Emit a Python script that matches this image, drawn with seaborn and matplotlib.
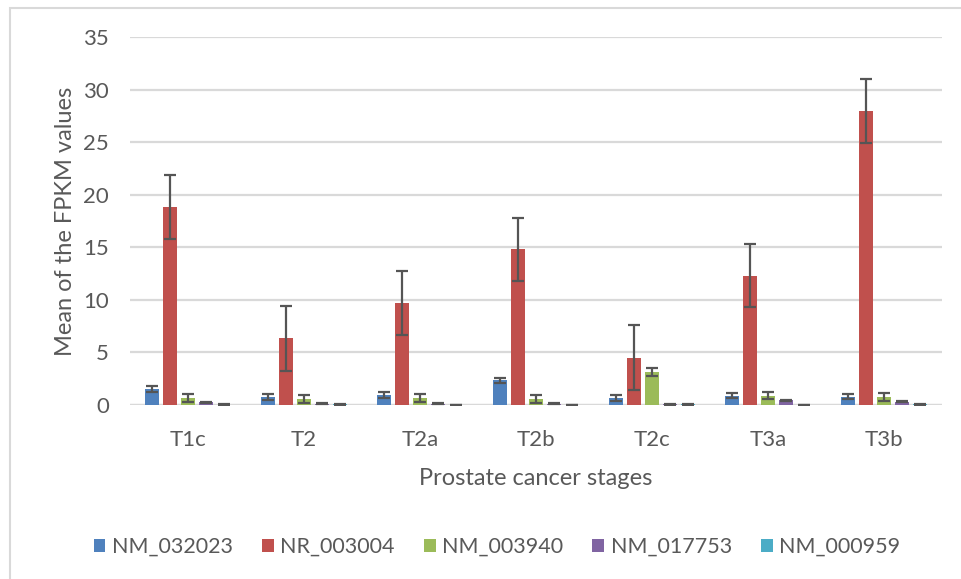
import matplotlib
matplotlib.use("Agg")
import matplotlib.pyplot as plt
from matplotlib.patches import Rectangle
import numpy as np
import pandas as pd
import seaborn as sns

# Stages and transcripts
stages = ["T1c", "T2", "T2a", "T2b", "T2c", "T3a", "T3b"]
genes = ["NM_032023", "NR_003004", "NM_003940", "NM_017753", "NM_000959"]

# Mean FPKM per stage (one list per transcript)
nm_032023 = [1.55, 0.75, 0.95, 2.35, 0.65, 0.90, 0.80]
nr_003004 = [18.8, 6.35, 9.7, 14.8, 4.5, 12.3, 27.95]
nm_003940 = [0.65, 0.55, 0.65, 0.55, 3.10, 0.90, 0.80]
nm_017753 = [0.25, 0.12, 0.12, 0.12, 0.05, 0.45, 0.30]
nm_000959 = [0.03, 0.05, 0.02, 0.02, 0.05, 0.02, 0.05]

# Error bar half-widths
err_032023 = [0.28, 0.25, 0.27, 0.22, 0.27, 0.27, 0.27]
err_003004 = [3.05, 3.10, 3.05, 3.00, 3.10, 3.00, 3.05]
err_003940 = [0.38, 0.38, 0.38, 0.38, 0.38, 0.32, 0.38]
err_017753 = [0.05, 0.04, 0.04, 0.04, 0.03, 0.06, 0.05]
err_000959 = [0.02, 0.02, 0.01, 0.01, 0.02, 0.01, 0.02]

means = [nm_032023, nr_003004, nm_003940, nm_017753, nm_000959]
errs = [err_032023, err_003004, err_003940, err_017753, err_000959]
colors = ["#4F81BD", "#C0504D", "#9BBB59", "#8064A2", "#4BACC6"]

df = pd.DataFrame({
    "stage": np.tile(stages, len(genes)),
    "gene": np.repeat(genes, len(stages)),
    "mean": np.concatenate(means),
    "err": np.concatenate(errs),
})

sns.set_theme(style="white")
plt.rcParams["font.family"] = ["Lato", "DejaVu Sans"]
text_col = "#595959"

fig = plt.figure(figsize=(9.61, 5.79), dpi=100)
W, H = 961, 579
ax = fig.add_axes([130 / W, 1 - 405 / H, 812 / W, 368 / H])

sns.barplot(data=df, x="stage", y="mean", hue="gene", order=stages,
            hue_order=genes, palette=colors, width=0.776, gap=0.22,
            errorbar=None, saturation=1, ax=ax, legend=True,
            edgecolor="none", zorder=3)

# Error bars centred on each drawn bar
for container, gene in zip(ax.containers, genes):
    sub = df[df.gene == gene].set_index("stage").loc[stages]
    xs = [p.get_x() + p.get_width() / 2 for p in container.patches]
    ax.errorbar(xs, sub["mean"].values, yerr=sub["err"].values, fmt="none",
                ecolor="#555555", elinewidth=1.6, capsize=4.2, capthick=1.6,
                zorder=4)

ax.set_ylim(0, 35)
ax.set_xlim(-0.5, len(stages) - 0.5)
ax.set_yticks(np.arange(0, 36, 5))
ax.yaxis.grid(True, color="#D9D9D9", linewidth=1.6, zorder=0)
ax.set_axisbelow(True)
for s in ax.spines.values():
    s.set_visible(False)
ax.axhline(0, color="#D9D9D9", linewidth=1.6, zorder=1)
ax.tick_params(axis="both", length=0, labelsize=16, labelcolor=text_col)
ax.tick_params(axis="y", pad=15)
ax.tick_params(axis="x", pad=18)

ax.set_xlabel("Prostate cancer stages", fontsize=17, color=text_col, labelpad=13)
ax.set_ylabel("Mean of the FPKM values", fontsize=17, color=text_col, labelpad=5)

handles, labels = ax.get_legend_handles_labels()
ax.legend_.remove()
fig.legend(handles, labels, loc="center", bbox_to_anchor=(497 / W, 1 - 547 / H),
           ncol=5, frameon=False, fontsize=15.5, labelcolor=text_col,
           handlelength=0.55, handleheight=0.55, handletextpad=0.3,
           columnspacing=1.35)

# Chart frame
fig.patches.append(Rectangle((10 / W, -0.1), 1.1, 1 - 8 / H + 0.1,
                             transform=fig.transFigure, fill=False,
                             edgecolor="#D9D9D9", linewidth=1.5))

fig.savefig("out.png", dpi=100)
